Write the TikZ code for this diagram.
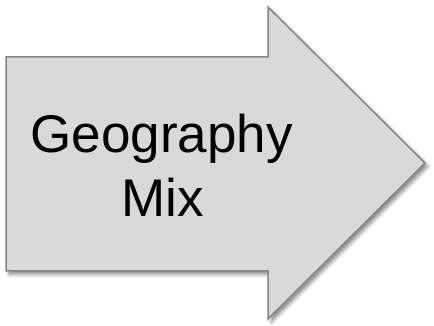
\documentclass[tikz,border=0pt]{standalone}
\usepackage{fontspec}
\setmainfont{Liberation Sans}
\usetikzlibrary{shadows.blur}
\definecolor{arrowfill}{HTML}{D9D9D9}
\definecolor{arrowline}{HTML}{858585}
\tikzset{
  bigarrow/.style={fill=arrowfill, draw=arrowline, line width=1.5pt, line join=miter,
    blur shadow={shadow xshift=3pt, shadow yshift=-3.5pt, shadow blur radius=3.5pt, shadow opacity=45}},
  label/.style={font=\fontsize{53}{64}\selectfont, text=black, inner sep=0pt, anchor=base}
}
\begin{document}
\begin{tikzpicture}[x=1pt,y=1pt]
  \useasboundingbox (0,0) rectangle (434,326);
  \path[bigarrow] (6,269) -- (268,269) -- (268,319) -- (425,163) -- (268,7) -- (268,55) -- (6,55) -- cycle;
  \node[label] (geo) at (161.5,173) {Geography};
  \node[label] (mix) at (162.5,109) {Mix};
\end{tikzpicture}
\end{document}
